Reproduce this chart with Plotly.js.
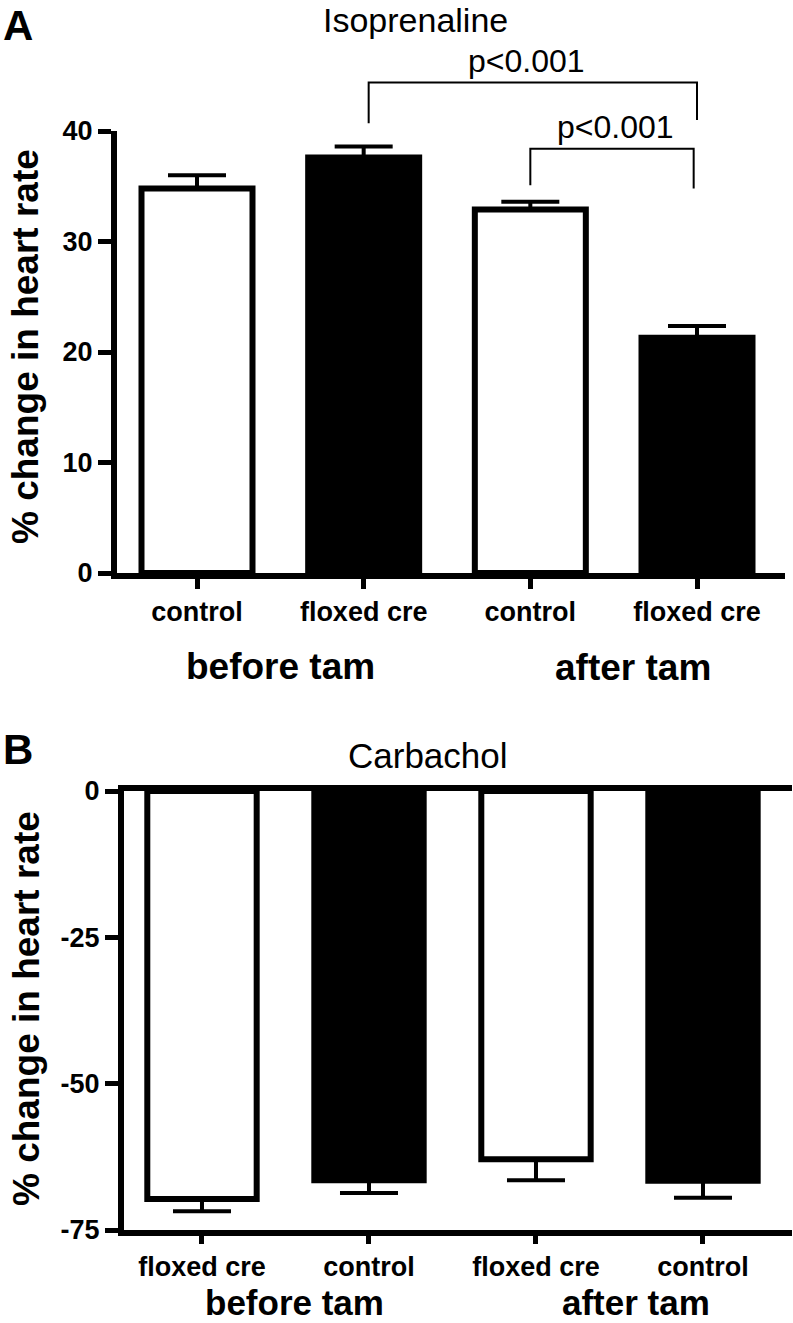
<!DOCTYPE html>
<html><head><meta charset="utf-8">
<script src="https://cdn.plot.ly/plotly-3.0.1.min.js"></script>
<style>html,body{margin:0;padding:0;background:#fff}</style>
</head><body>
<div id="chart" style="width:793px;height:1323px"></div>
<script>
// ---------- data ----------
// Panel A: Isoprenaline
const barIndex = [0, 1, 2, 3];
const tickLabelsA = ['control', 'floxed cre', 'control', 'floxed cre'];
const isoMean = [34.8, 37.6, 32.9, 21.3];
const isoSem = [1.2, 1.0, 0.7, 1.05];
const yTicksA = [0, 10, 20, 30, 40];
// Panel B: Carbachol
const tickLabelsB = ['floxed cre', 'control', 'floxed cre', 'control'];
const carbMean = [-69.7, -66.5, -62.9, -66.6];
const carbSem = [2.1, 2.2, 3.6, 2.9];
const yTicksB = [-75, -50, -25, 0];
const groupLabels = ['before tam', 'after tam'];
const panelTitles = ['Isoprenaline', 'Carbachol'];
// significance brackets (bar index, % change)
const bracket1X = [1.03, 1.03, 3.0, 3.0];
const bracket1Y = [40.7, 44.4, 44.4, 41.0];
const bracket2X = [2.0, 2.0, 2.98, 2.98];
const bracket2Y = [35.1, 38.4, 38.4, 34.8];
const pLabels = ['p<0.001', 'p<0.001'];
const pLabelX = [1.974, 2.508];
const pLabelY = [46.3, 40.4];

// ---------- style ----------
const W = 793, H = 1323;
const FONT = 'Liberation Sans, Arial, Helvetica, sans-serif';
const fillA = ['#ffffff', '#000000', '#ffffff', '#000000'];
const fillB = ['#ffffff', '#000000', '#ffffff', '#000000'];
const fx = p => p / W;
const fy = p => 1 - p / H;
const zeros = a => a.map(() => 0);

// panel A geometry (pixels) – an invisible twin y-axis with the same scale
// extends above the plot so the significance brackets can sit there
const A_BOTTOM = 573, A_TOP = 131, A_EXT_TOP = 40;
const yRangeA = [0, 40];
const yRangeA3 = [0, yRangeA[1] * (A_BOTTOM - A_EXT_TOP) / (A_BOTTOM - A_TOP)];
const xRangeA = [-0.48, 3.528];

const barStyle = { line: { color: '#000', width: 6 } };

const traces = [
  {
    type: 'bar', x: barIndex, y: isoMean, width: 0.666,
    marker: Object.assign({ color: fillA }, barStyle),
    error_y: { type: 'data', symmetric: false, array: isoSem, arrayminus: zeros(isoSem),
               color: '#000', thickness: 4, width: 29 },
    xaxis: 'x', yaxis: 'y', hoverinfo: 'skip'
  },
  {
    type: 'bar', x: barIndex, y: carbMean, width: 0.655,
    marker: Object.assign({ color: fillB }, barStyle),
    error_y: { type: 'data', symmetric: false, array: zeros(carbSem), arrayminus: carbSem,
               color: '#000', thickness: 4, width: 29 },
    xaxis: 'x2', yaxis: 'y2', hoverinfo: 'skip'
  },
  {
    type: 'scatter', mode: 'lines', x: bracket1X, y: bracket1Y,
    line: { color: '#000', width: 2 }, xaxis: 'x3', yaxis: 'y3', hoverinfo: 'skip'
  },
  {
    type: 'scatter', mode: 'lines', x: bracket2X, y: bracket2Y,
    line: { color: '#000', width: 2 }, xaxis: 'x3', yaxis: 'y3', hoverinfo: 'skip'
  }
];

const tickFont = { family: FONT, size: 27, weight: 'bold', color: '#000' };
const axisCommon = {
  showline: true, linecolor: '#000', linewidth: 6,
  ticks: 'outside', tickcolor: '#000', tickwidth: 5,
  showgrid: false, zeroline: false, fixedrange: true, tickfont: tickFont
};

const annotations = [
  { text: 'A', x: fx(18), y: 1, yanchor: 'top', font: { family: FONT, size: 42, weight: 'bold', color: '#000' } },
  { text: 'B', x: fx(18), y: fy(749), font: { family: FONT, size: 42, weight: 'bold', color: '#000' } },
  { text: panelTitles[0], x: fx(415.5), y: 1, yanchor: 'top', borderpad: 0,
    font: { family: FONT, size: 34, color: '#000' } },
  { text: panelTitles[1], x: fx(428), y: fy(755), font: { family: FONT, size: 35, color: '#000' } },
  { text: groupLabels[0], x: fx(280), y: fy(666.5), font: { family: FONT, size: 37, weight: 'bold', color: '#000' } },
  { text: groupLabels[1], x: fx(632.5), y: fy(668), font: { family: FONT, size: 37, weight: 'bold', color: '#000' } },
  { text: groupLabels[0], x: fx(294), y: 0, yanchor: 'bottom', borderpad: 0,
    font: { family: FONT, size: 35, weight: 'bold', color: '#000' } },
  { text: groupLabels[1], x: fx(636), y: 0, yanchor: 'bottom', borderpad: 0,
    font: { family: FONT, size: 35, weight: 'bold', color: '#000' } },
  { text: '% change in heart rate', x: fx(26), y: fy(347), textangle: -90,
    font: { family: FONT, size: 37, weight: 'bold', color: '#000' } },
  { text: '% change in heart rate', x: fx(26), y: fy(1009), textangle: -90,
    font: { family: FONT, size: 37, weight: 'bold', color: '#000' } }
].map(a => Object.assign({ xref: 'paper', yref: 'paper', xanchor: 'center', yanchor: 'middle', showarrow: false }, a));

pLabels.forEach((t, i) => annotations.push({
  text: t, x: pLabelX[i], y: pLabelY[i], xref: 'x3', yref: 'y3', showarrow: false,
  xanchor: 'center', yanchor: 'middle', font: { family: FONT, size: 32, color: '#000' }
}));

const layout = {
  width: W, height: H,
  margin: { l: 0, r: 0, t: 0, b: 0 },
  paper_bgcolor: '#fff', plot_bgcolor: 'rgba(0,0,0,0)',
  showlegend: false,
  font: { family: FONT, color: '#000' },
  xaxis: Object.assign({}, axisCommon, {
    domain: [fx(117), fx(785)], anchor: 'y', range: xRangeA,
    tickvals: barIndex, ticktext: tickLabelsA, ticklen: 10
  }),
  yaxis: Object.assign({}, axisCommon, {
    domain: [fy(A_BOTTOM), fy(A_TOP)], anchor: 'x', range: yRangeA,
    tickvals: yTicksA, ticktext: yTicksA.map(String), ticklen: 13
  }),
  xaxis2: Object.assign({}, axisCommon, {
    domain: [fx(124), fx(792)], anchor: 'y2', range: [-0.467, 3.533], mirror: true,
    tickvals: barIndex, ticktext: tickLabelsB, ticklen: 8
  }),
  yaxis2: Object.assign({}, axisCommon, {
    domain: [fy(1230), fy(791)], anchor: 'x2', range: [-75, 0],
    tickvals: yTicksB, ticktext: yTicksB.map(String), ticklen: 13
  }),
  xaxis3: { domain: [fx(117), fx(785)], anchor: 'y3', range: xRangeA, visible: false, fixedrange: true },
  yaxis3: { domain: [fy(A_BOTTOM), fy(A_EXT_TOP)], anchor: 'x3', range: yRangeA3, visible: false, fixedrange: true },
  annotations: annotations
};

Plotly.newPlot('chart', traces, layout, { displayModeBar: false, staticPlot: true });
</script>
</body></html>
